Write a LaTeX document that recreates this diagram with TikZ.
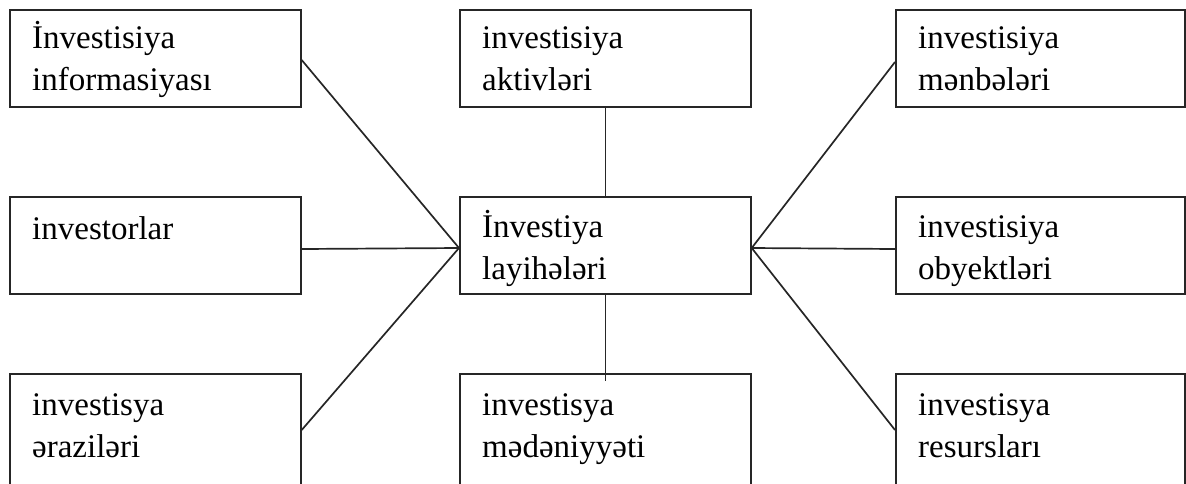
\documentclass[tikz,border=0pt]{standalone}
\usepackage{fontspec}
\setmainfont{Liberation Serif}
\usetikzlibrary{calc}
\begin{document}
\begin{tikzpicture}[x=1pt,y=-1pt,
  box/.style={draw=black!85,line width=1.7pt,rectangle,inner sep=0pt,anchor=north west,minimum width=291pt,minimum height=97pt},
  lowbox/.style={box,minimum height=140pt},
  lbl/.style={anchor=base west,inner sep=0pt,text width=270pt,align=left,font=\fontsize{33pt}{42pt}\selectfont},
  conn/.style={draw=black!85,line width=1.7pt}]
\useasboundingbox (0,0) rectangle (1186,483);
\clip (0,0) rectangle (1186,483);
% boxes
\node[box] (tl) at (9,9) {};
\node[box] (tm) at (459,9) {};
\node[box,minimum width=289pt] (tr) at (895,9) {};
\node[box] (ml) at (9,196) {};
\node[box] (c) at (459,196) {};
\node[box,minimum width=289pt] (mr) at (895,196) {};
\node[lowbox] (bl) at (9,373) {};
\node[lowbox] (bm) at (459,373) {};
\node[lowbox,minimum width=289pt] (br) at (895,373) {};
% labels
\node[lbl] (ttl) at ($(tl.north west)+(23,39)$) {İnvestisiya\\informasiyası};
\node[lbl] (ttm) at ($(tm.north west)+(23,39)$) {investisiya\\aktivləri};
\node[lbl] (ttr) at ($(tr.north west)+(23,39)$) {investisiya\\mənbələri};
\node[lbl] (tml) at ($(ml.north west)+(23,43)$) {investorlar};
\node[lbl] (tc) at ($(c.north west)+(23,41)$) {İnvestiya\\layihələri};
\node[lbl] (tmr) at ($(mr.north west)+(23,41)$) {investisiya\\obyektləri};
\node[lbl] (tbl) at ($(bl.north west)+(23,42)$) {investisya\\əraziləri};
\node[lbl] (tbm) at ($(bm.north west)+(23,42)$) {investisya\\mədəniyyəti};
\node[lbl] (tbr) at ($(br.north west)+(23,42)$) {investisya\\resursları};
% connection points
\coordinate (cw) at ($(c.north west)+(0,52)$);
\coordinate (ce) at ($(c.north east)+(0,52)$);
\coordinate (tle) at ($(tl.north east)+(0,51)$);
\coordinate (mle) at ($(ml.north east)+(0,53)$);
\coordinate (ble) at ($(bl.north east)+(0,57)$);
\coordinate (trw) at ($(tr.north west)+(0,53)$);
\coordinate (mrw) at ($(mr.north west)+(0,53)$);
\coordinate (brw) at ($(br.north west)+(0,57)$);
\coordinate (bmt) at ($(bm.north)+(0,8)$);
% connectors
\draw[conn] (tle) -- (cw);
\draw[conn] (mle) -- (cw);
\draw[conn] (ble) -- (cw);
\draw[conn] (trw) -- (ce);
\draw[conn] (mrw) -- (ce);
\draw[conn] (brw) -- (ce);
\draw[conn] (tm.south) -- (c.north);
\draw[conn] (c.south) -- (bmt);
\end{tikzpicture}
\end{document}
